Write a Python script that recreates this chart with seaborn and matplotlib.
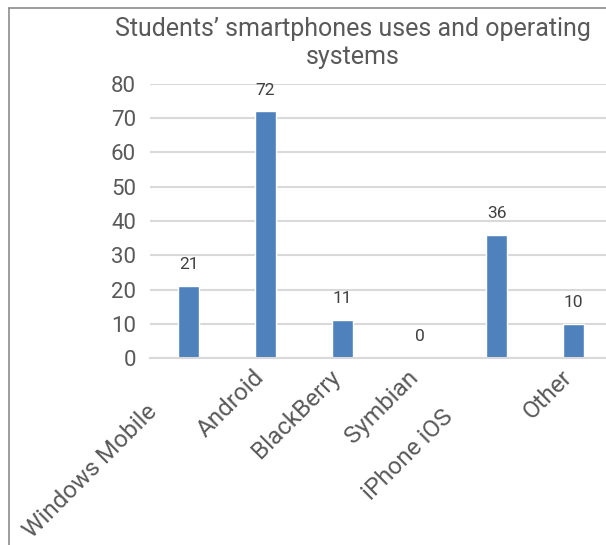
import matplotlib
matplotlib.use("Agg")
import matplotlib.pyplot as plt
import matplotlib.transforms as mtransforms
from matplotlib.lines import Line2D
import seaborn as sns
import pandas as pd

categories = ["Windows Mobile", "Android", "BlackBerry", "Symbian", "iPhone iOS", "Other"]
values = [21, 72, 11, 0, 36, 10]
yticks = [0, 10, 20, 30, 40, 50, 60, 70, 80]
title = "Students\u2019 smartphones uses and operating\nsystems"

sns.set_theme(style="white")
plt.rcParams["font.family"] = ["Roboto", "DejaVu Sans"]

df = pd.DataFrame({"os": categories, "n": values})

fig = plt.figure(figsize=(6.06, 5.45), dpi=100)
ax = fig.add_axes([150/606, 1-358/545, 462/606, (358-84)/545])
sns.barplot(data=df, x="os", y="n", color="#4F81BD", saturation=1, width=0.27, ax=ax)
ax.set_xlim(-0.5, 5.5)
ax.set_ylim(0, 80)
ax.set_yticks(yticks)
ax.set_yticklabels([str(t) for t in yticks], fontsize=16, color="#595959")
ax.yaxis.grid(True, color="#D9D9D9", linewidth=1.5)
ax.set_axisbelow(True)
for s in ["top", "right", "left"]:
    ax.spines[s].set_visible(False)
ax.spines["bottom"].set_color("#D9D9D9")
ax.spines["bottom"].set_linewidth(1.5)
ax.tick_params(axis="y", length=0, pad=10)
ax.tick_params(axis="x", length=0, pad=2)
ax.set_xlabel("")
ax.set_ylabel("")
ax.set_xticks(range(len(categories)))
labels = ax.set_xticklabels(categories, rotation=45, ha="right", va="center",
                            rotation_mode="anchor", fontsize=17.5, color="#595959")
shifts = {"Windows Mobile": (-30, -34), "iPhone iOS": (-42, -40)}
for lab in labels:
    t = lab.get_text()
    dx, dy = shifts.get(t, (0, 0))
    dx -= 5
    dy -= 13
    lab.set_transform(lab.get_transform() + mtransforms.ScaledTranslation(dx/100, dy/100, fig.dpi_scale_trans))

for i, v in enumerate(values):
    ax.annotate(str(v), (i, v), xytext=(0, 10), textcoords="offset points",
                ha="center", va="bottom", fontsize=12.5, color="#404040")

fig.text(353/606, 1-43/545, title, ha="center", va="center", fontsize=18,
         color="#595959", linespacing=1.17)

fig.add_artist(Line2D([9/606, 9/606], [0, 1-8/545], color="#8C8C8C", linewidth=1.2))
fig.add_artist(Line2D([9/606, 1], [1-8/545, 1-8/545], color="#8C8C8C", linewidth=1.2))

fig.savefig("out.png", dpi=100)
